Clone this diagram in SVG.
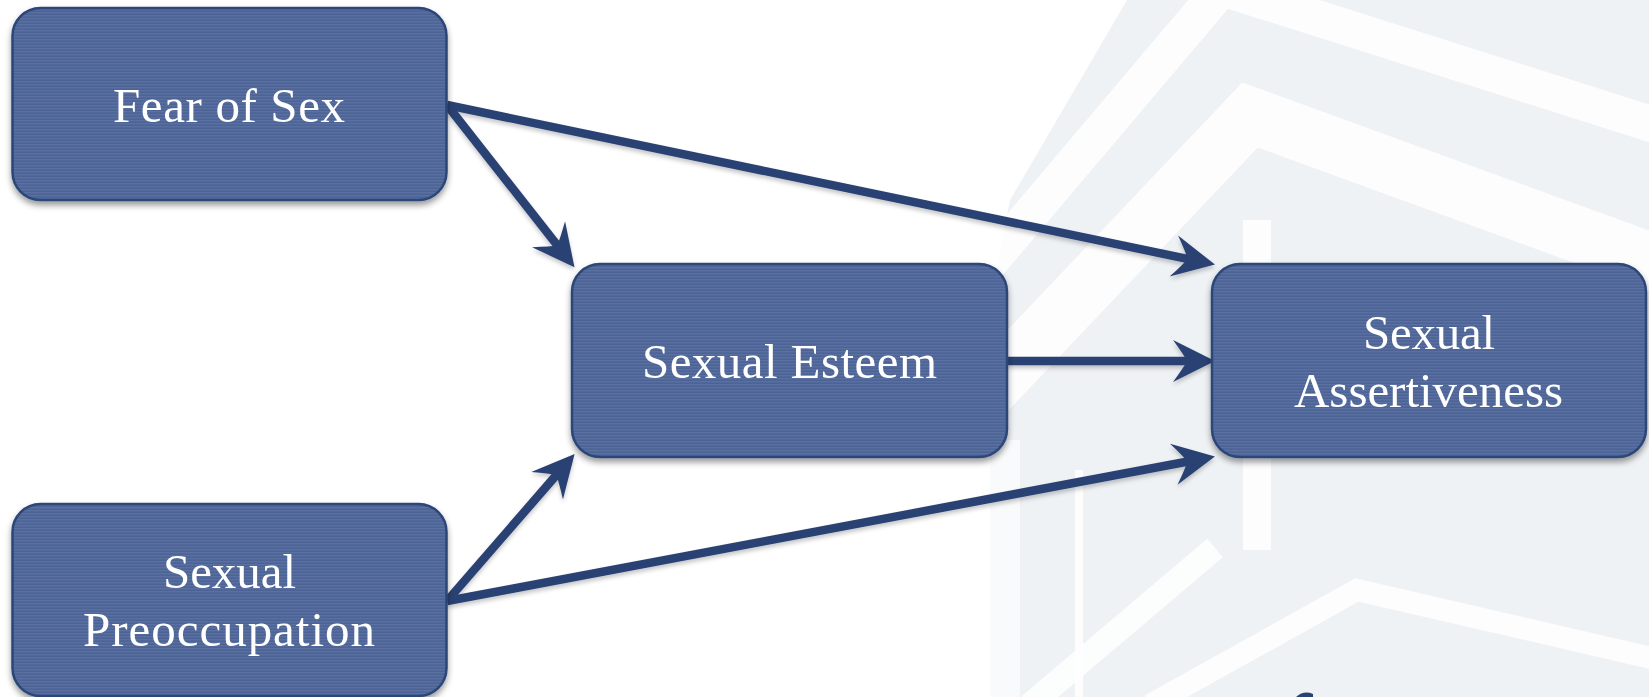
<svg xmlns="http://www.w3.org/2000/svg" width="1649" height="697" viewBox="0 0 1649 697">
  <style>
    .box { fill: url(#tex); stroke: #2c4677; stroke-width: 2.5; filter: url(#shadow); }
    .lbl { font-family: "Liberation Serif", "Times New Roman", serif; font-size: 49px; fill: #ffffff; text-anchor: middle; }
    .conn { stroke: #2a4273; stroke-width: 8.5; fill: none; marker-end: url(#arrow); }
    .wm { fill: #eff2f5; }
    .wmgap { stroke: #ffffff; fill: none; stroke-linejoin: miter; opacity: 0.85; }
  </style>
  <defs>
    <pattern id="tex" width="8" height="3" patternUnits="userSpaceOnUse">
      <rect width="8" height="3" fill="#51689a"/>
      <rect y="0" width="8" height="1" fill="#5c72a3" opacity="0.8"/>
      <rect y="2" width="8" height="0.6" fill="#475c8d" opacity="0.6"/>
    </pattern>
    <filter id="shadow" x="-10%" y="-10%" width="120%" height="130%">
      <feDropShadow dx="0" dy="4" stdDeviation="3" flood-color="#000000" flood-opacity="0.4"/>
    </filter>
    <filter id="ashadow" x="-10%" y="-20%" width="120%" height="140%">
      <feDropShadow dx="0" dy="3" stdDeviation="2" flood-color="#000000" flood-opacity="0.22"/>
    </filter>
    <marker id="arrow" markerUnits="userSpaceOnUse" viewBox="0 -23 46 46" markerWidth="46" markerHeight="46" refX="20" refY="0" orient="auto">
      <path d="M42 0 L0 -21 Q11 -6 14 0 Q11 6 0 21 Z" fill="#2a4273"/>
    </marker>
  </defs>

  <rect width="1649" height="697" fill="#ffffff"/>

  <g id="watermark">
    <polygon class="wm" points="1127,0 1649,0 1649,697 990,697 990,300 1010,200"/>
    <polyline class="wmgap" stroke-width="36" points="985,268 1222,-12 1670,130"/>
    <polyline class="wmgap" stroke-width="56" points="975,405 1250,115 1670,268"/>
    <rect x="1243" y="220" width="28" height="330" fill="#ffffff" opacity="0.85"/>
    <rect x="1075" y="470" width="8" height="227" fill="#ffffff" opacity="0.85"/>
    <path d="M990 697 L990 440 L1020 440 L1020 697 Z" fill="#ffffff" opacity="0.6"/>
    <line x1="1030" y1="705" x2="1215" y2="548" stroke="#ffffff" stroke-width="24" opacity="0.85"/>
    <polyline class="wmgap" stroke-width="22" points="1150,705 1357,590 1660,660"/>
    <path d="M1296 697 Q1304 690 1313 694 L1313 697 Z" fill="#2a4273"/>
  </g>

  <g id="connectors" filter="url(#ashadow)">
    <line class="conn" x1="447" y1="105" x2="560.9" y2="249.9"/>
    <line class="conn" x1="447" y1="105" x2="1193.4" y2="260.1"/>
    <line class="conn" x1="1007" y1="361" x2="1193" y2="361"/>
    <line class="conn" x1="447" y1="601" x2="560.2" y2="470.6"/>
    <line class="conn" x1="447" y1="601" x2="1193.3" y2="460.5"/>
  </g>

  <g id="node-fear">
    <rect class="box" x="12.5" y="8" width="434" height="192" rx="28"/>
    <text class="lbl" x="229" y="122" textLength="232" lengthAdjust="spacing">Fear of Sex</text>
  </g>
  <g id="node-esteem">
    <rect class="box" x="572" y="264" width="435" height="193" rx="28"/>
    <text class="lbl" x="789.5" y="378" textLength="295" lengthAdjust="spacing">Sexual Esteem</text>
  </g>
  <g id="node-assertiveness">
    <rect class="box" x="1212" y="264" width="434" height="193" rx="28"/>
    <text class="lbl" x="1429" y="349" textLength="132" lengthAdjust="spacing">Sexual</text>
    <text class="lbl" x="1428.5" y="407" textLength="269" lengthAdjust="spacing">Assertiveness</text>
  </g>
  <g id="node-preoccupation">
    <rect class="box" x="12.5" y="504" width="434" height="192" rx="28"/>
    <text class="lbl" x="229.5" y="588" textLength="133" lengthAdjust="spacing">Sexual</text>
    <text class="lbl" x="229" y="646" textLength="292" lengthAdjust="spacing">Preoccupation</text>
  </g>
</svg>
